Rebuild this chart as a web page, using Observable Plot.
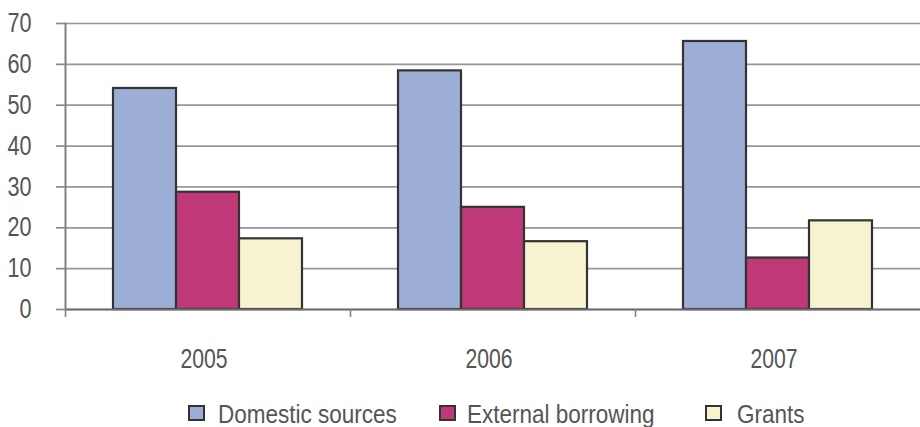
<!DOCTYPE html>
<html><head><meta charset="utf-8">
<script src="https://cdn.jsdelivr.net/npm/d3@7"></script>
<script src="https://cdn.jsdelivr.net/npm/@observablehq/plot@0.6"></script>
<style>
body{margin:0;background:#fff;font-family:"Liberation Sans",Arial,sans-serif;}
#chart{position:relative;width:920px;height:427px;overflow:hidden;}
#chart svg{display:block;}
.legend{position:relative;height:42px;color:#555;font-size:25px;line-height:1;}
.legend .sw{position:absolute;top:20px;width:13px;height:12px;border:2px solid #333;}
.legend .tx{position:absolute;top:17px;white-space:nowrap;transform:scaleX(0.9);transform-origin:left center;}
</style></head><body><div id="chart"></div>
<script>
const years = ["2005", "2006", "2007"];
const series = ["Domestic sources", "External borrowing", "Grants"];
const domestic = [54.1, 58.4, 65.6];
const external = [28.7, 25.0, 12.6];
const grants = [17.3, 16.6, 21.7];
const colors = ["#9caed6", "#bf3878", "#f7f2d0"];
const yTicks = [0, 10, 20, 30, 40, 50, 60, 70];

const values = [domestic, external, grants];
const rows = years.flatMap((yr, i) => series.map((s, j) => ({year: yr, series: s, value: values[j][i]})));

const W = 920, H = 385, ML = 65, MR = 0;
const facetW = (W - ML - MR) / years.length;

const plot = Plot.plot({
  width: W, height: H,
  marginLeft: ML, marginRight: MR, marginTop: 23, marginBottom: 76,
  style: {fontFamily: '"Liberation Sans",Arial,sans-serif', fontSize: "27px", color: "#555", background: "#fff"},
  fx: {domain: years, padding: 0, label: null},
  x: {domain: series, paddingInner: 0, paddingOuter: 0.727, axis: null},
  y: {domain: [0, 70], label: null},
  color: {domain: series, range: colors},
  marks: [
    Plot.gridY(yTicks, {stroke: "#969696", strokeOpacity: 1, strokeWidth: 1.7}),
    Plot.barY(rows, {fx: "year", x: "series", y: "value", fill: "series", stroke: "#333", strokeWidth: 2.2}),
    Plot.ruleY([0], {stroke: "#6e6e6e", strokeWidth: 2}),
    Plot.frame({anchor: "left", fx: [years[0]], stroke: "#808080", strokeWidth: 2}),
    Plot.axisY(yTicks, {tickSize: 9, tickPadding: 25, stroke: "#8a8a8a", strokeWidth: 1.7, fill: "#555", fontSize: 27, label: null}),
    Plot.axisFx({anchor: "bottom", tickSize: 0, tickPadding: 38.5, dx: -4, fill: "#555", fontSize: 27.5, label: null}),
    Plot.axisFx({anchor: "bottom", tickSize: 8, tickFormat: () => "", dx: -facetW / 2, stroke: "#808080", strokeWidth: 1.6, label: null})
  ]
});
// condensed look: squeeze each label horizontally around its own anchor
const squeeze = (sel, k) => plot.querySelectorAll(sel).forEach(el => {
  const t = el.getAttribute("transform");
  if (t) {
    el.setAttribute("transform", t + ` scale(${k},1)`);
  } else {
    const x = +el.getAttribute("x") || 0, y = +el.getAttribute("y") || 0;
    el.removeAttribute("x"); el.removeAttribute("y");
    el.setAttribute("transform", `translate(${x},${y}) scale(${k},1)`);
  }
});
squeeze('[aria-label="y-axis tick label"] text', 0.8);
squeeze('[aria-label="fx-axis tick label"] text', 0.77);
document.getElementById("chart").appendChild(plot);

const swatchX = [188, 439, 705];
const textX = [218, 467, 737];
const legend = document.createElement("div");
legend.className = "legend";
series.forEach((s, j) => {
  const sw = document.createElement("span");
  sw.className = "sw";
  sw.style.left = swatchX[j] + "px";
  sw.style.background = colors[j];
  const t = document.createElement("span");
  t.className = "tx";
  t.style.left = textX[j] + "px";
  t.textContent = s;
  legend.appendChild(sw); legend.appendChild(t);
});
document.getElementById("chart").appendChild(legend);
</script></body></html>
